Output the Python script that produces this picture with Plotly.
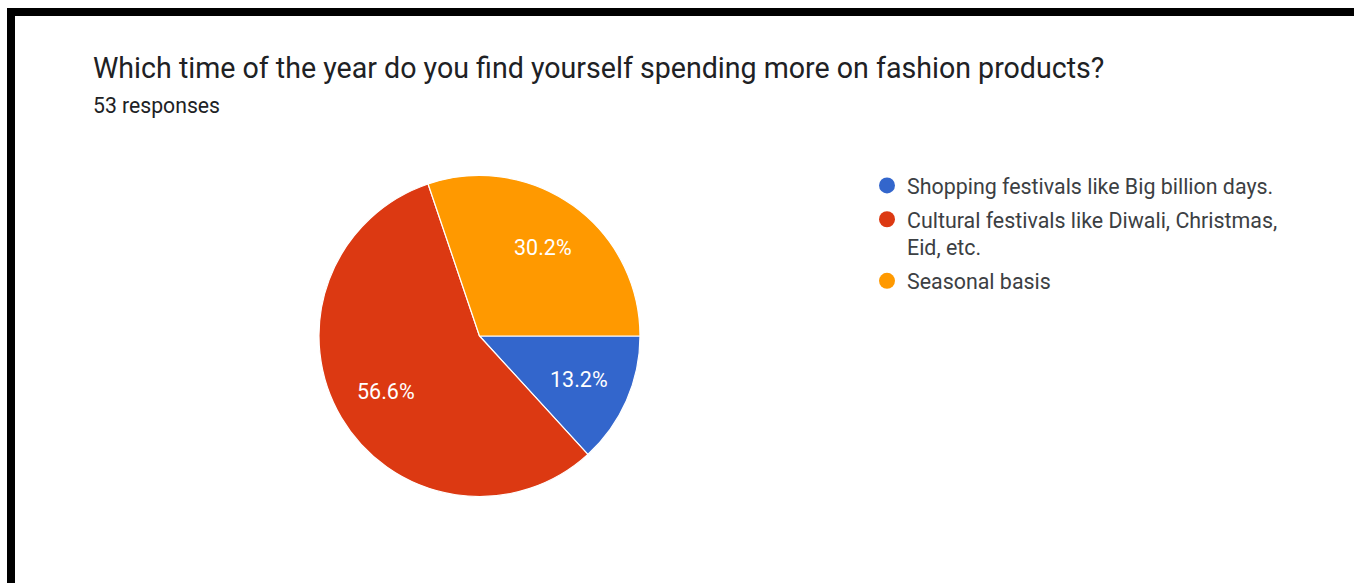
import math
import plotly.graph_objects as go

# Survey responses
title = "Which time of the year do you find yourself spending more on fashion products?"
subtitle = "53 responses"
categories = [
    "Shopping festivals like Big billion days.",
    "Cultural festivals like Diwali, Christmas,<br>Eid, etc.",
    "Seasonal basis",
]
counts = [7, 30, 16]
colors = ["#3366cc", "#dc3912", "#ff9900"]

W, H = 1354, 583
FONT = "Roboto, Arial, sans-serif"

# Pie placement in pixels
CX, CY, R = 479.5, 336.0, 160.5
LABEL_R = 0.68  # label distance from centre, as a fraction of the radius

fig = go.Figure()

fig.add_trace(go.Pie(
    labels=categories,
    values=counts,
    marker=dict(colors=colors, line=dict(color="white", width=1.2)),
    sort=False,
    direction="clockwise",
    rotation=90,
    textinfo="none",
    hoverinfo="label+value+percent",
    showlegend=False,
    domain=dict(x=[(CX - R) / W, (CX + R) / W], y=[1 - (CY + R) / H, 1 - (CY - R) / H]),
))

# Percentage labels on each slice's bisector
total = sum(counts)
annotations = []
start = 0.0  # clockwise degrees from 3 o'clock
for c in counts:
    sweep = 360.0 * c / total
    mid = math.radians(start + sweep / 2)
    px = CX + LABEL_R * R * math.cos(mid)
    py = CY + LABEL_R * R * math.sin(mid)
    annotations.append(dict(
        text=f"{100 * c / total:.1f}%", x=px / W, y=1 - py / H,
        xref="paper", yref="paper", xanchor="center", yanchor="middle",
        showarrow=False, font=dict(family=FONT, size=21.5, color="white"),
    ))
    start += sweep

# Round legend markers, one entry per answer
for i, (lab, col) in enumerate(zip(categories, colors)):
    fig.add_trace(go.Scatter(
        x=[None], y=[None], mode="markers", name=lab,
        marker=dict(symbol="circle", size=20, color=col),
        legendgroup=f"g{i}", showlegend=True, hoverinfo="skip",
    ))

annotations += [
    dict(text=title, x=91 / W, y=1 - 68 / H, xref="paper", yref="paper",
         xanchor="left", yanchor="middle", showarrow=False,
         font=dict(family=FONT, size=28.6, color="#202124")),
    dict(text=subtitle, x=91 / W, y=1 - 105.5 / H, xref="paper", yref="paper",
         xanchor="left", yanchor="middle", showarrow=False,
         font=dict(family=FONT, size=21.2, color="#202124")),
]

fig.update_layout(
    width=W, height=H,
    margin=dict(l=0, r=0, t=0, b=0),
    paper_bgcolor="white", plot_bgcolor="white",
    xaxis=dict(visible=False), yaxis=dict(visible=False),
    legend=dict(
        x=867 / W, y=1 - 165 / H, xanchor="left", yanchor="top",
        font=dict(family=FONT, size=21.4, color="#3c4043"),
        valign="top", tracegroupgap=3, itemsizing="trace",
        bgcolor="rgba(0,0,0,0)",
    ),
    annotations=annotations,
    shapes=[
        dict(type="rect", xref="paper", yref="paper", x0=7 / W, x1=1, y0=1 - 16 / H, y1=1 - 8 / H,
             fillcolor="black", line=dict(width=0), layer="above"),
        dict(type="rect", xref="paper", yref="paper", x0=7 / W, x1=15 / W, y0=0, y1=1 - 8 / H,
             fillcolor="black", line=dict(width=0), layer="above"),
    ],
)

fig.write_html("out.html")
